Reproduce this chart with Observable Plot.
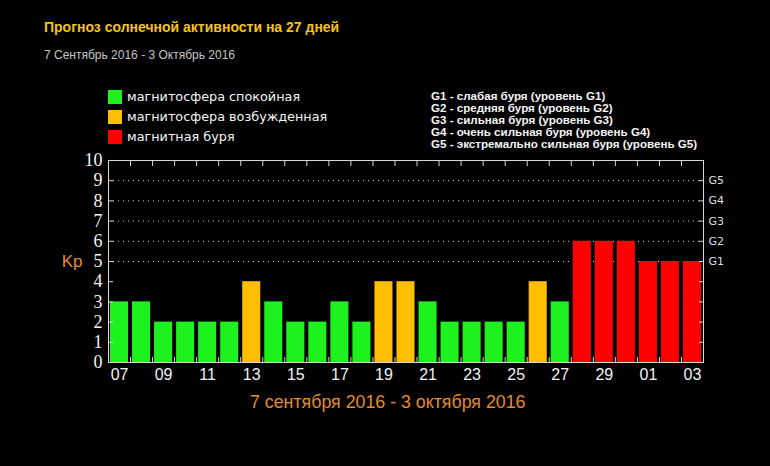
<!DOCTYPE html>
<html>
<head>
<meta charset="utf-8">
<script src="https://cdn.jsdelivr.net/npm/d3@7"></script>
<script src="https://cdn.jsdelivr.net/npm/@observablehq/plot@0.6"></script>
<style>
  html, body { margin: 0; padding: 0; background: #000; }
  #wrap { position: relative; width: 770px; height: 466px; background: #000; overflow: hidden; }
  #wrap svg { position: absolute; left: 0; top: 0; }
  .t { position: absolute; white-space: nowrap; }
  .serif-axis text { font-family: 'Liberation Serif', 'Times New Roman', serif !important; }
</style>
</head>
<body>
<div id="wrap"></div>
<script>
// ---- data ----
const days = ["07","08","09","10","11","12","13","14","15","16","17","18","19","20","21","22","23","24","25","26","27","28","29","30","01","02","03"];
const kp   = [3,3,2,2,2,2,4,3,2,2,3,2,4,4,3,2,2,2,2,4,3,6,6,6,5,5,5];
const xTickLabels = ["07","09","11","13","15","17","19","21","23","25","27","29","01","03"];
const yTicks = [0,1,2,3,4,5,6,7,8,9,10];
const gLevels = [5,6,7,8,9];
const gLabels = ["G1","G2","G3","G4","G5"];
const stateNames = ["магнитосфера спокойная","магнитосфера возбужденная","магнитная буря"];
const stateColors = ["#1ef21e","#ffbf00","#ff0000"];
const stateThresholds = [4,5];
const gDescriptions = [
  "G1 - слабая буря (уровень G1)",
  "G2 - средняя буря (уровень G2)",
  "G3 - сильная буря (уровень G3)",
  "G4 - очень сильная буря (уровень G4)",
  "G5 - экстремально сильная буря (уровень G5)"
];
const title = "Прогноз солнечной активности на 27 дней";
const subtitle = "7 Сентябрь 2016 - 3 Октябрь 2016";
const caption = "7 сентября 2016 - 3 октября 2016";
const yLabel = "Kp";

const data = days.map((d, i) => ({i, day: d, kp: kp[i]}));
const boundaries = d3.range(1, days.length);
const labelPos = xTickLabels.map(l => days.indexOf(l) + 0.5);

const frameColor = "#d8d8d8";
const orange = "#e68a2e";

const chart = Plot.plot({
  width: 770,
  height: 466,
  marginLeft: 108,
  marginRight: 67,
  marginTop: 160,
  marginBottom: 104,
  style: {background: "#000", color: "#fff", overflow: "visible"},
  x: {type: "linear", domain: [0, days.length]},
  y: {domain: [0, 10]},
  color: {type: "threshold", domain: stateThresholds, range: stateColors},
  marks: [
    Plot.gridY(gLevels, {stroke: "#cfcfcf", strokeOpacity: 1, strokeDasharray: "1,4"}),
    Plot.rectY(data, {x1: "i", x2: d => d.i + 1, y: "kp", fill: "kp", insetLeft: 2, insetRight: 2}),
    Plot.frame({stroke: frameColor}),
    // inward ticks
    Plot.axisY(yTicks, {anchor: "left", tickSize: 5, dx: 5, fill: "none", stroke: frameColor, label: null}),
    Plot.axisY(yTicks, {anchor: "right", tickSize: 5, dx: -5, fill: "none", stroke: frameColor, label: null}),
    Plot.axisX(boundaries, {anchor: "top", tickSize: 5, dy: 5, fill: "none", stroke: frameColor, label: null}),
    Plot.axisX(boundaries, {anchor: "bottom", tickSize: 5, dy: -5, fill: "none", stroke: frameColor, label: null}),
    // labels
    Plot.axisY(yTicks, {anchor: "left", tickSize: 0, tickPadding: 6, fill: "#f2f2f2", fontSize: 18,
      fontFamily: "Liberation Serif", className: "serif-axis", label: null}),
    Plot.axisY(gLevels, {anchor: "right", tickSize: 0, tickPadding: 5, fill: "#dedede", fontSize: 11,
      fontFamily: "DejaVu Sans, sans-serif", tickFormat: d => gLabels[gLevels.indexOf(d)], label: null}),
    Plot.axisX(labelPos, {anchor: "bottom", tickSize: 0, tickPadding: 6, fill: "#f2f2f2", fontSize: 16,
      fontFamily: "Liberation Sans, sans-serif", tickFormat: d => days[Math.floor(d)], label: null}),
    Plot.text([yLabel], {frameAnchor: "left", dx: -26, textAnchor: "end", fill: orange, fontSize: 17,
      fontFamily: "Liberation Sans, sans-serif"})
  ]
});

const wrap = document.getElementById("wrap");
wrap.appendChild(chart);

function addText(txt, style) {
  const el = document.createElement("div");
  el.className = "t";
  el.textContent = txt;
  Object.assign(el.style, style);
  wrap.appendChild(el);
  return el;
}

addText(title, {left: "44px", top: "19px", font: "bold 14px 'Liberation Sans', Arial, sans-serif", color: "#f2c21f", lineHeight: "16px"});
addText(subtitle, {left: "44px", top: "48px", font: "12px 'Liberation Sans', Arial, sans-serif", color: "#c4c4c4", lineHeight: "14px"});

stateNames.forEach((name, k) => {
  const sq = document.createElement("div");
  Object.assign(sq.style, {position: "absolute", left: "108px", top: (90 + k * 20) + "px", width: "14px", height: "14px", background: stateColors[k]});
  wrap.appendChild(sq);
  addText(name, {left: "127px", top: (89 + k * 20) + "px", font: "12.8px 'DejaVu Sans', sans-serif", color: "#f4f4f4", lineHeight: "16px"});
});

gDescriptions.forEach((s, k) => {
  addText(s, {left: "431px", top: (89 + k * 12) + "px", font: "bold 11.6px 'Liberation Sans', Arial, sans-serif", color: "#f4f4f4", lineHeight: "14px"});
});

addText(caption, {left: "250px", top: "391px", font: "17.8px 'Liberation Sans', Arial, sans-serif", color: orange, lineHeight: "22px"});
</script>
</body>
</html>
